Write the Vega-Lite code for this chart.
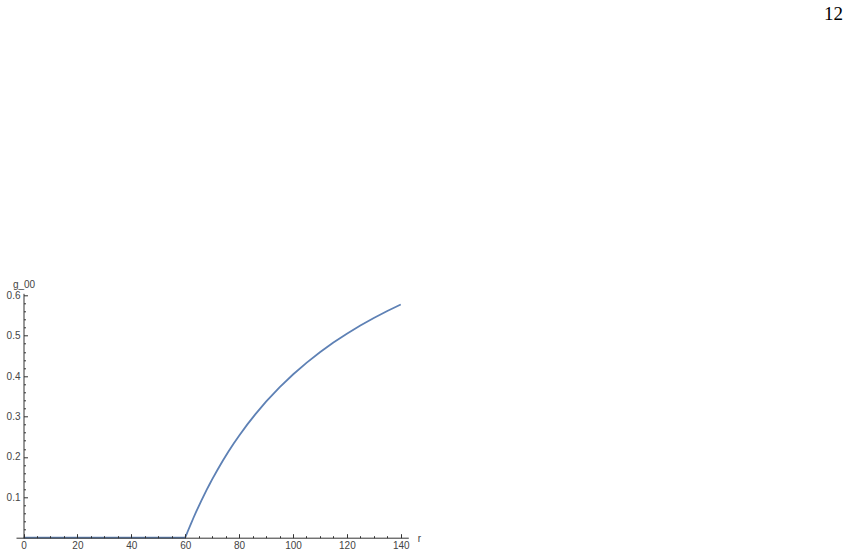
{
  "$schema": "https://vega.github.io/schema/vega-lite/v6.json",
  "width": 392.3,
  "height": 244.4,
  "autosize": "none",
  "padding": {"left": 16, "top": 293.3, "right": 442.7, "bottom": 18.3},
  "background": "white",
  "title": {
    "text": "12",
    "anchor": "end",
    "frame": "group",
    "font": "Liberation Serif",
    "fontSize": 19,
    "fontWeight": "normal",
    "color": "#000000",
    "baseline": "alphabetic",
    "offset": 0,
    "dx": 434.7,
    "dy": -240
  },
  "config": {
    "view": {"stroke": null},
    "axis": {
      "grid": false,
      "domainColor": "#333333",
      "tickColor": "#333333",
      "domainWidth": 1,
      "tickWidth": 1,
      "labelFont": "Liberation Sans",
      "labelFontSize": 10,
      "labelColor": "#444444",
      "labelOverlap": false,
      "labelBound": false,
      "labelFlush": false,
      "titleFont": "Liberation Sans",
      "titleFontSize": 10,
      "titleFontWeight": "normal",
      "titleColor": "#444444"
    }
  },
  "data": {
    "values": [
      {"r": 0, "g": 0},
      {"r": 30, "g": 0},
      {"r": 60, "g": 0},
      {"r": 61, "g": 0.01656},
      {"r": 62, "g": 0.03258},
      {"r": 63, "g": 0.0481},
      {"r": 64, "g": 0.06313},
      {"r": 65, "g": 0.07769},
      {"r": 66, "g": 0.09182},
      {"r": 67, "g": 0.10552},
      {"r": 68, "g": 0.11882},
      {"r": 69, "g": 0.13174},
      {"r": 70, "g": 0.14429},
      {"r": 72, "g": 0.16833},
      {"r": 74, "g": 0.19108},
      {"r": 76, "g": 0.21263},
      {"r": 78, "g": 0.23308},
      {"r": 80, "g": 0.2525},
      {"r": 83, "g": 0.27988},
      {"r": 86, "g": 0.30535},
      {"r": 90, "g": 0.33667},
      {"r": 95, "g": 0.37211},
      {"r": 100, "g": 0.404},
      {"r": 105, "g": 0.43286},
      {"r": 110, "g": 0.45909},
      {"r": 115, "g": 0.48304},
      {"r": 120, "g": 0.505},
      {"r": 125, "g": 0.5252},
      {"r": 130, "g": 0.54385},
      {"r": 135, "g": 0.56111},
      {"r": 140, "g": 0.57714}
    ]
  },
  "layer": [
    {
      "mark": {"type": "line", "color": "#5E81B5", "strokeWidth": 1.8, "clip": false},
      "encoding": {
        "x": {
          "field": "r",
          "type": "quantitative",
          "scale": {"domain": [-2.8, 142.8], "nice": false, "zero": false},
          "axis": {
            "orient": "bottom",
            "values": [0, 20, 40, 60, 80, 100, 120, 140],
            "tickSize": -4,
            "labelPadding": 7,
            "zindex": 1,
            "title": "r",
            "titleX": 401.3,
            "titleY": 3.5,
            "titleAlign": "left",
            "titleBaseline": "alphabetic"
          }
        },
        "y": {
          "field": "g",
          "type": "quantitative",
          "scale": {"domain": [0, 0.605], "nice": false},
          "axis": {
            "orient": "left",
            "offset": -7.5,
            "values": [0.1, 0.2, 0.3, 0.4, 0.5, 0.6],
            "format": ".1f",
            "tickSize": -4,
            "labelPadding": 7.5,
            "zindex": 1,
            "title": "g_00",
            "titleAngle": 0,
            "titleX": 0,
            "titleY": -6,
            "titleAlign": "center",
            "titleBaseline": "alphabetic"
          }
        }
      }
    },
    {
      "mark": {"type": "line", "opacity": 0},
      "encoding": {
        "x": {
          "field": "r",
          "type": "quantitative",
          "axis": {
            "orient": "bottom",
            "values": [5, 10, 15, 25, 30, 35, 45, 50, 55, 65, 70, 75, 85, 90, 95, 105, 110, 115, 125, 130, 135],
            "labels": false,
            "domain": false,
            "tickSize": -2,
            "zindex": 1,
            "title": null
          }
        },
        "y": {
          "field": "g",
          "type": "quantitative",
          "axis": {
            "orient": "left",
            "offset": -7.5,
            "values": [0.02, 0.04, 0.06, 0.08, 0.12, 0.14, 0.16, 0.18, 0.22, 0.24, 0.26, 0.28, 0.32, 0.34, 0.36, 0.38, 0.42, 0.44, 0.46, 0.48, 0.52, 0.54, 0.56, 0.58],
            "labels": false,
            "domain": false,
            "tickSize": -2,
            "zindex": 1,
            "title": null
          }
        }
      }
    }
  ],
  "resolve": {"axis": {"x": "independent", "y": "independent"}}
}
